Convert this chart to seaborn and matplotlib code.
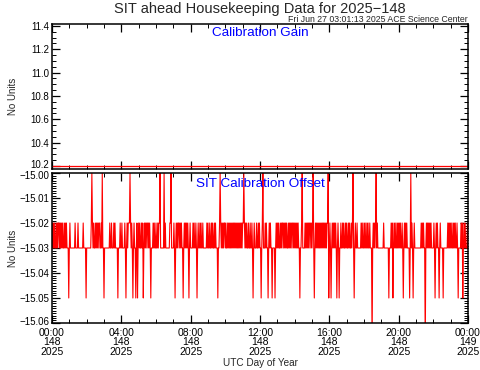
import numpy as np
import pandas as pd
import matplotlib
matplotlib.use("Agg")
import matplotlib.pyplot as plt
import matplotlib.ticker as mticker
import matplotlib.transforms as mtrans
import seaborn as sns

# ---------------- data ----------------
title = "SIT ahead Housekeeping Data for 2025\u2212148"
subtitle = "Fri Jun 27 03:01:13 2025 ACE Science Center"
gain_label = "Calibration Gain"
offset_label = "SIT Calibration Offset"
x_label = "UTC Day of Year"
y_label = "No Units"

# Calibration gain (readings every two hours, constant through the day)
gain_hours = [0, 2, 4, 6, 8, 10, 12, 14, 16, 18, 20, 22, 24]
gain_values = [10.2, 10.2, 10.2, 10.2, 10.2, 10.2, 10.2, 10.2, 10.2, 10.2, 10.2, 10.2, 10.2]

# Calibration offset: 2-minute samples, one string per hour, coded levels
offset_levels = {"0": -15.00, "2": -15.02, "3": -15.03, "5": -15.05, "7": -15.07}
offset_hour_00 = "232323323232232323233232323335"
offset_hour_01 = "323333333323333233333333233335"
offset_hour_02 = "333333332023233232323223323033"
offset_hour_03 = "533333333323323332323333533323"
offset_hour_04 = "323333235323222023235323353253"
offset_hour_05 = "232332325323232232323533323233"
offset_hour_06 = "233232203333330323333333220333"
offset_hour_07 = "323532323223232335323232323532"
offset_hour_08 = "333323233235323323233233333323"
offset_hour_09 = "233233232332323335332023232322"
offset_hour_10 = "323323232323232323232323232323"
offset_hour_11 = "220232323323323323532333233232"
offset_hour_12 = "335320333232335323233533335323"
offset_hour_13 = "232332323223232323323232322323"
offset_hour_14 = "232323233533203333232323232232"
offset_hour_15 = "320353232323232323232323232205"
offset_hour_16 = "323532323232353235332332323323"
offset_hour_17 = "233232332320353233233333323233"
offset_hour_18 = "232332323323337323232032333333"
offset_hour_19 = "333323333333353332325323233232"
offset_hour_20 = "323233235323232333353032353233"
offset_hour_21 = "333333333232323373232323232333"
offset_hour_22 = "323532323353233335333333323232"
offset_hour_23 = "323323232332353333232532323332"
offset_end = "3"
offset_codes = (offset_hour_00 + offset_hour_01 + offset_hour_02 + offset_hour_03 +
                offset_hour_04 + offset_hour_05 + offset_hour_06 + offset_hour_07 +
                offset_hour_08 + offset_hour_09 + offset_hour_10 + offset_hour_11 +
                offset_hour_12 + offset_hour_13 + offset_hour_14 + offset_hour_15 +
                offset_hour_16 + offset_hour_17 + offset_hour_18 + offset_hour_19 +
                offset_hour_20 + offset_hour_21 + offset_hour_22 + offset_hour_23 +
                offset_end)
sample_minutes = 2

x_ticks_hours = [0, 4, 8, 12, 16, 20, 24]
x_tick_labels = ["00:00\n148\n2025", "04:00\n148\n2025", "08:00\n148\n2025",
                 "12:00\n148\n2025", "16:00\n148\n2025", "20:00\n148\n2025",
                 "00:00\n149\n2025"]
gain_yticks = [10.2, 10.4, 10.6, 10.8, 11.0, 11.2, 11.4]
offset_yticks = [-15.06, -15.05, -15.04, -15.03, -15.02, -15.01, -15.00]

# ---------------- build frames ----------------
offset_values = [offset_levels[c] for c in offset_codes]
offset_time = np.arange(len(offset_values)) * sample_minutes / 60.0
df_off = pd.DataFrame({"hour": offset_time, "value": offset_values})
df_gain = pd.DataFrame({"hour": gain_hours, "value": gain_values})

# ---------------- style ----------------
sns.set_style("ticks")
plt.rcParams["font.family"] = ["Liberation Sans", "DejaVu Sans"]
plt.rcParams["axes.linewidth"] = 1.1

fig = plt.figure(figsize=(4.81, 3.70), dpi=100)
left, width = 52 / 481, 416 / 481
ax1 = fig.add_axes([left, 1 - 169 / 370, width, 145 / 370])
ax2 = fig.add_axes([left, 1 - 323 / 370, width, 150 / 370])

sns.lineplot(data=df_gain, x="hour", y="value", ax=ax1, color="red",
             linewidth=0.9, estimator=None, sort=False)
sns.lineplot(data=df_off, x="hour", y="value", ax=ax2, color="red",
             linewidth=0.8, estimator=None, sort=False)

for ax in (ax1, ax2):
    ax.set_xlim(0, 24)
    ax.set_xticks(x_ticks_hours)
    ax.xaxis.set_minor_locator(mticker.MultipleLocator(1))
    ax.tick_params(axis="both", which="major", direction="in", length=6,
                   width=0.9, top=True, right=True, labelsize=7.0, color="black",
                   labelcolor="black", pad=2)
    ax.tick_params(axis="both", which="minor", direction="in", length=3,
                   width=0.7, top=True, right=True, color="black")
    for s in ax.spines.values():
        s.set_color("black")
        s.set_visible(True)
    ax.set_xlabel("")
    ax.set_ylabel(y_label, fontsize=7)
    ax.yaxis.set_label_coords(-0.082, 0.5)

ax1.set_ylim(10.174, 11.417)
ax1.set_yticks(gain_yticks)
ax1.yaxis.set_major_formatter(mticker.FormatStrFormatter("%.1f"))
ax1.yaxis.set_minor_locator(mticker.MultipleLocator(0.05))
ax1.set_xticklabels([])
ax1.text(0.5, 0.938, gain_label, transform=ax1.transAxes, ha="center",
         va="center", color="blue", fontsize=9.7)

ax2.set_ylim(-15.06, -15.0)
ax2.set_yticks(offset_yticks)
ax2.yaxis.set_major_formatter(mticker.FuncFormatter(
    lambda v, p: ("%.2f" % v).replace("-", "\u2212")))
ax2.yaxis.set_minor_locator(mticker.MultipleLocator(0.001))
ax2.set_xticklabels(x_tick_labels, fontsize=7.5, linespacing=0.95)
ax2.tick_params(axis="x", which="major", pad=3.5)
ax2.text(0.5, 0.927, offset_label, transform=ax2.transAxes, ha="center",
         va="center", color="blue", fontsize=9.7)

fig.text(260 / 481, 1 - 9 / 370, title, ha="center", va="center", fontsize=10.5)
fig.text(468 / 481, 1 - 19 / 370, subtitle, ha="right", va="center", fontsize=6.3)
fig.text(260 / 481, 1 - 363 / 370, x_label, ha="center", va="center", fontsize=7.2)

# nudge the crowded edge tick labels apart (as in the reference)
fig.canvas.draw()
def nudge(label, dy_px):
    label.set_transform(label.get_transform() +
                        mtrans.ScaledTranslation(0, dy_px / 100, fig.dpi_scale_trans))
ylabs1 = ax1.get_yticklabels()
ylabs2 = ax2.get_yticklabels()
nudge(ylabs1[0], 2)
nudge(ylabs2[-1], -2)
nudge(ylabs2[0], 2)

fig.savefig("out.png", dpi=100)
